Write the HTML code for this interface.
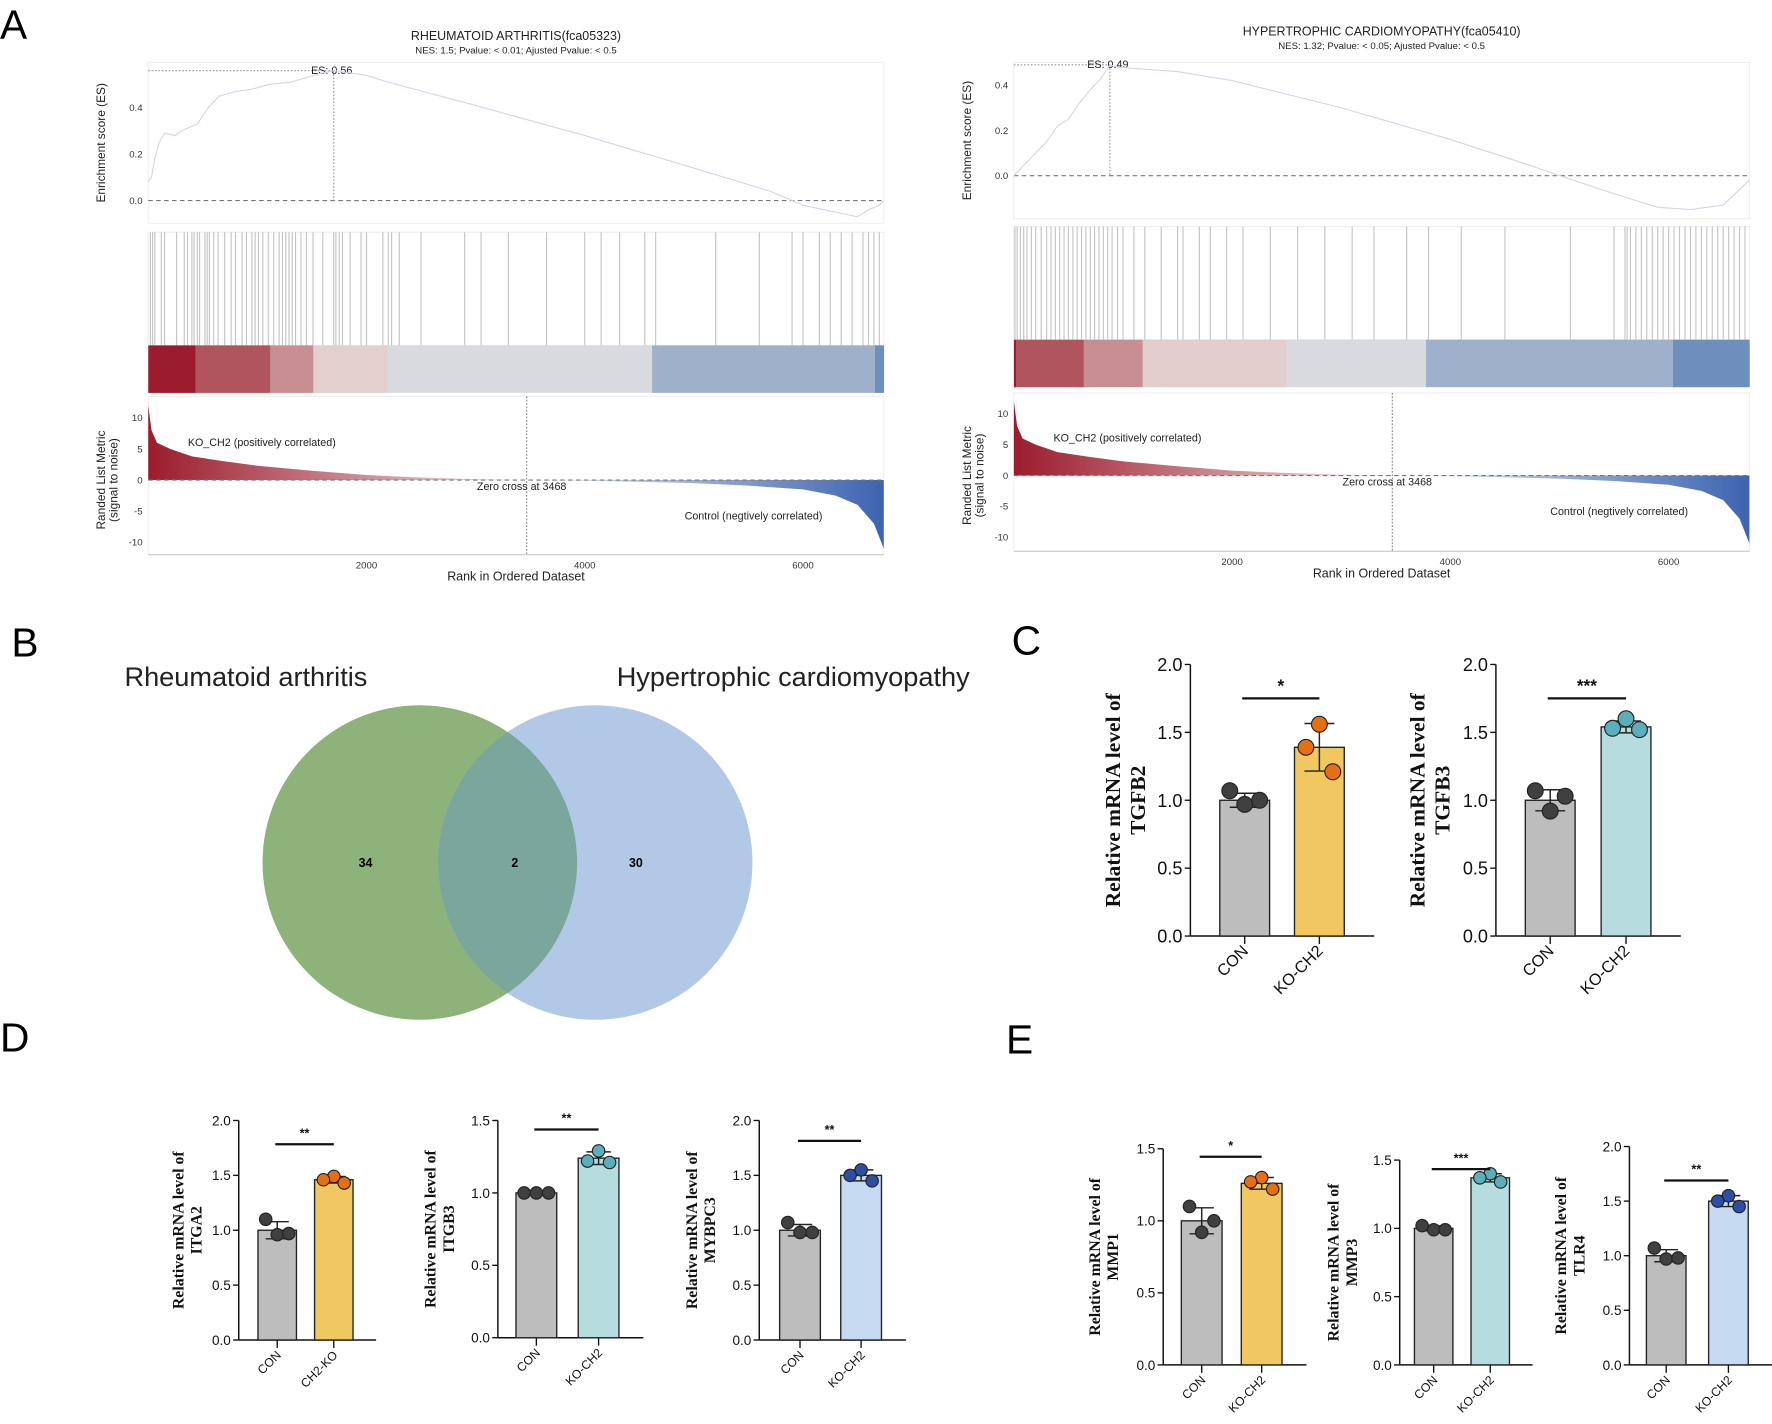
<!DOCTYPE html>
<html><head><meta charset="utf-8"><style>
html,body{margin:0;padding:0;background:#fff}
svg{display:block;font-family:"Liberation Sans",sans-serif}
</style></head><body>
<svg id="fig" width="1772" height="1424" viewBox="0 0 1566 1258" xmlns="http://www.w3.org/2000/svg">
<defs>
<linearGradient id="redG" x1="0" x2="1" y1="0" y2="0"><stop offset="0" stop-color="#9b1c2c"/><stop offset="1" stop-color="#f6e4e4"/></linearGradient>
<linearGradient id="blueG" x1="0" x2="1" y1="0" y2="0"><stop offset="0" stop-color="#eef0f6"/><stop offset="1" stop-color="#3d63b0"/></linearGradient>
<clipPath id="vennClip"><circle cx="371" cy="762" r="139"/></clipPath>
</defs>
<g font-size="36" fill="#000">
<text x="0" y="34">A</text>
<text x="10" y="580">B</text>
<text x="894" y="578">C</text>
<text x="0" y="929">D</text>
<text x="889" y="931">E</text>
</g>
<g id="gseaL"></g>
<g id="gseaR"></g>
<g>
<text x="110" y="606" font-size="24" fill="#222">Rheumatoid arthritis</text>
<text x="545" y="606" font-size="24" fill="#222">Hypertrophic cardiomyopathy</text>
<circle cx="371" cy="762" r="139" fill="#8db37a"/>
<circle cx="526" cy="762" r="139" fill="#b1c9e6"/>
<circle cx="526" cy="762" r="139" fill="#7ba69c" clip-path="url(#vennClip)"/>
<text x="323" y="766" font-size="11" font-weight="bold" text-anchor="middle">34</text>
<text x="455" y="766" font-size="11" font-weight="bold" text-anchor="middle">2</text>
<text x="562" y="766" font-size="11" font-weight="bold" text-anchor="middle">30</text>
</g>
<g id="bars"></g>
</svg>
<script>
// ---------- GSEA data ----------
const esRanksL=[0,30,60,100,150,250,300,450,550,650,800,950,1100,1300,1450,1600,1700,2000,2200,3000,4000,5000,5700,6000,6300,6500,6600,6700,6740];
const esValsL=[0.08,0.1,0.18,0.25,0.29,0.28,0.3,0.33,0.4,0.45,0.47,0.48,0.5,0.51,0.53,0.55,0.56,0.54,0.51,0.41,0.28,0.14,0.04,-0.02,-0.05,-0.07,-0.04,-0.02,0.0];
const hitsL=[20,40,60,120,150,260,330,360,400,420,450,470,520,540,560,600,640,700,760,800,860,900,950,980,1010,1050,1100,1150,1200,1230,1260,1290,1320,1350,1400,1450,1510,1600,1700,1720,1750,1780,1850,1950,2000,2150,2200,2230,2300,2500,2900,3050,3300,3650,4000,4150,4320,4550,4650,5200,5600,5900,6000,6150,6250,6350,6450,6550,6600,6650,6700];
const heatEdgesL=[0,432,1117,1512,2187,4617,6660,6740];
const heatColorsL=["#9b1c2c","#b0555d","#c98e91","#e4cfcf","#d9dae0","#9fb0cb","#6e8ebd"];
const esRanksR=[0,100,200,300,400,500,600,700,800,880,950,1200,1500,2000,3000,4000,4700,5000,5500,5900,6200,6500,6740];
const esValsR=[0.0,0.05,0.1,0.15,0.22,0.25,0.32,0.38,0.43,0.49,0.48,0.47,0.46,0.42,0.3,0.16,0.05,0.0,-0.08,-0.14,-0.15,-0.13,-0.02];
const hitsR=[10,30,60,90,120,160,200,250,300,340,380,420,460,500,540,580,620,660,700,740,780,820,860,900,950,1000,1100,1200,1350,1500,1550,1700,1800,1950,2100,2350,2600,2850,3100,3300,3600,3800,4100,4500,5100,5500,5600,5620,5650,5700,5750,5800,5850,5900,5950,6000,6050,6100,6150,6200,6250,6300,6350,6400,6450,6500,6550,6600,6650,6700];
const heatEdgesR=[0,20,640,1180,2500,3777,6040,6740];
const heatColorsR=["#9b1c2c","#b0555d","#c98e91","#e4cdcd","#d9dae0","#9fb0cb","#6e8ebd"];
const metRanks=[0,30,80,200,400,700,1000,1500,2000,2500,3000,3468,4000,5000,5500,6000,6300,6500,6650,6740];
const metVals=[12,8,6,5,3.8,3,2.3,1.5,0.8,0.4,0.15,0,-0.1,-0.5,-0.9,-1.5,-2.5,-4,-7,-11];
const rankTicks=[2000,4000,6000];
const esTickVals=[0.0,0.2,0.4];
const metTickVals=[10,5,0,-5,-10];
const NS="http://www.w3.org/2000/svg";
function mk(parent,tag,attrs,txt){const e=document.createElementNS(NS,tag);for(const k in attrs)e.setAttribute(k,attrs[k]);if(txt!==undefined)e.textContent=txt;parent.appendChild(e);return e;}

function gsea(g,c){
  const X=r=>c.x0+(r/6740)*(c.x1-c.x0);
  const ESY=v=>c.esZero-v*c.esScale;
  const MY=v=>c.metZero-v*c.metScale;
  const t=mk(g,'text',{x:(c.x0+c.x1)/2,y:c.titleY,'font-size':11,'text-anchor':'middle',fill:'#222'},c.title);
  
  mk(g,'text',{x:(c.x0+c.x1)/2,y:c.titleY+12,'font-size':8.5,'text-anchor':'middle',fill:'#222'},c.sub);
  [[c.esTop,c.esBot],[c.hitTop,c.barTop],[c.metTop,c.metBot]].forEach(b=>mk(g,'rect',{x:c.x0,y:b[0],width:c.x1-c.x0,height:b[1]-b[0],fill:'none',stroke:'#eee'}));
  mk(g,'line',{x1:c.x0,x2:c.x1,y1:ESY(0),y2:ESY(0),stroke:'#777','stroke-dasharray':'4,3'});
  esTickVals.forEach(v=>{mk(g,'text',{x:c.x0-5,y:ESY(v)+3,'font-size':8.5,'text-anchor':'end',fill:'#333'},v.toFixed(1));});
  let pk=0;c.esV.forEach((v,i)=>{if(v>c.esV[pk])pk=i;});
  const px=X(c.esR[pk]),py=ESY(c.esV[pk]);
  mk(g,'line',{x1:c.x0,x2:px,y1:py,y2:py,stroke:'#999','stroke-dasharray':'1.5,1.5'});
  mk(g,'line',{x1:px,x2:px,y1:py,y2:ESY(0),stroke:'#999','stroke-dasharray':'1.5,1.5'});
  mk(g,'text',{x:px-20,y:py+3,'font-size':9.5,fill:'#222'},'ES: '+c.esV[pk].toFixed(2));
  const line=mk(g,'polyline',{points:c.esR.map((r,i)=>X(r)+','+ESY(c.esV[i])).join(' '),fill:'none',stroke:'#cfd7e8','stroke-width':1});
  
  mk(g,'text',{transform:`translate(${c.x0-38},${(c.esTop+c.esBot)/2}) rotate(-90)`,'font-size':10.5,'text-anchor':'middle',fill:'#222'},'Enrichment score (ES)');
  c.hits.forEach(r=>{const l=mk(g,'line',{x1:X(r),x2:X(r),y1:c.hitTop,y2:c.barTop,stroke:'#c4c4c4','stroke-width':1});});
  c.heatC.forEach((col,i)=>{const r=mk(g,'rect',{x:X(c.heatE[i]),y:c.barTop,width:X(c.heatE[i+1])-X(c.heatE[i])+0.3,height:c.barBot-c.barTop,fill:col});});
  const zi=metRanks.indexOf(3468);
  let pos=`M${X(0)},${MY(0)} `+metRanks.slice(0,zi+1).map((r,i)=>`L${X(r)},${MY(metVals[i])}`).join(' ')+' Z';
  let neg=`M${X(3468)},${MY(0)} `+metRanks.slice(zi).map((r,i)=>`L${X(r)},${MY(metVals[zi+i])}`).join(' ')+` L${X(6740)},${MY(0)} Z`;
  const pp=mk(g,'path',{d:pos,fill:'url(#redG)'});
  const np=mk(g,'path',{d:neg,fill:'url(#blueG)'});
  mk(g,'line',{x1:c.x0,x2:c.x1,y1:MY(0),y2:MY(0),stroke:'#777','stroke-dasharray':'4,3'});
  mk(g,'line',{x1:X(3468),x2:X(3468),y1:c.metTop,y2:c.metBot,stroke:'#888','stroke-dasharray':'1.5,1.5'});
  metTickVals.forEach(v=>mk(g,'text',{x:c.x0-5,y:MY(v)+3,'font-size':8.5,'text-anchor':'end',fill:'#333'},String(v)));
  mk(g,'text',{x:c.x0+35,y:MY(0)-30,'font-size':9.5,fill:'#222'},'KO_CH2 (positively correlated)');
  mk(g,'text',{x:X(3468)-44,y:MY(0)+9,'font-size':9.5,fill:'#222'},'Zero cross at 3468');
  mk(g,'text',{x:c.x0+474,y:MY(0)+35,'font-size':9.5,fill:'#222'},'Control (negtively correlated)');
  mk(g,'text',{transform:`translate(${c.x0-38},${MY(0)}) rotate(-90)`,'font-size':10.5,'text-anchor':'middle',fill:'#222'},'Randed List Metric');
  mk(g,'text',{transform:`translate(${c.x0-27},${MY(0)}) rotate(-90)`,'font-size':10.5,'text-anchor':'middle',fill:'#222'},'(signal to noise)');
  mk(g,'line',{x1:c.x0,x2:c.x1,y1:c.metBot,y2:c.metBot,stroke:'#ccc'});
  rankTicks.forEach(r=>mk(g,'text',{x:X(r),y:c.metBot+12,'font-size':8.5,'text-anchor':'middle',fill:'#333'},String(r)));
  mk(g,'text',{x:(c.x0+c.x1)/2,y:c.metBot+23,'font-size':11,'text-anchor':'middle',fill:'#222'},'Rank in Ordered Dataset');
}
gsea(document.getElementById('gseaL'),{x0:131,x1:781,titleY:35,title:'RHEUMATOID ARTHRITIS(fca05323)',sub:'NES: 1.5;  Pvalue: < 0.01;  Ajusted Pvalue: < 0.5',esTop:55,esBot:197,esZero:177,esScale:205,esR:esRanksL,esV:esValsL,hits:hitsL,hitTop:205,barTop:305,barBot:347,heatE:heatEdgesL,heatC:heatColorsL,metTop:350,metBot:490,metZero:424,metScale:5.5});
gsea(document.getElementById('gseaR'),{x0:896,x1:1546,titleY:31,title:'HYPERTROPHIC CARDIOMYOPATHY(fca05410)',sub:'NES: 1.32;  Pvalue: < 0.05;  Ajusted Pvalue: < 0.5',esTop:55,esBot:193,esZero:155,esScale:200,esR:esRanksR,esV:esValsR,hits:hitsR,hitTop:200,barTop:300,barBot:342,heatE:heatEdgesR,heatC:heatColorsR,metTop:347,metBot:487,metZero:420,metScale:5.45});

// ---------- bar chart data ----------
const genes=["TGFB2","TGFB3","ITGA2","ITGB3","MYBPC3","MMP1","MMP3","TLR4"];
const conMeans=[1.0,1.0,1.0,1.0,1.0,1.0,1.0,1.0];
const koMeans=[1.39,1.54,1.46,1.24,1.5,1.26,1.37,1.5];
const conPts=[[1.07,0.97,1.0],[1.07,0.92,1.03],[1.1,0.96,0.97],[1.0,1.0,1.0],[1.07,0.98,0.98],[1.1,0.92,1.0],[1.02,0.99,0.99],[1.07,0.97,0.98]];
const koPts=[[1.56,1.21,1.39],[1.6,1.52,1.53],[1.49,1.43,1.46],[1.29,1.21,1.22],[1.55,1.45,1.5],[1.3,1.22,1.27],[1.4,1.34,1.37],[1.55,1.45,1.5]];
const sigLabels=["*","***","**","**","**","*","***","**"];
const koNames=["KO-CH2","KO-CH2","CH2-KO","KO-CH2","KO-CH2","KO-CH2","KO-CH2","KO-CH2"];
const yMaxes=[2.0,2.0,2.0,1.5,2.0,1.5,1.5,2.0];
const koFill=["#f0c761","#b6dce0","#f0c761","#b6dce0","#c6dbf2","#f0c761","#b6dce0","#c6dbf2"];
const koDot=["#e66f14","#5aafbb","#e66f14","#5aafbb","#2c4fa3","#e66f14","#5aafbb","#2c4fa3"];
const L=[
 {ax:1052,y0:827,yT:587,b1:1078,b2:1144,bw:44,ylx:990,fs:19,tf:16,r:7,sigY:617},
 {ax:1322,y0:827,yT:587,b1:1348,b2:1415,bw:44,ylx:1259,fs:19,tf:16,r:7,sigY:617},
 {ax:211,y0:1184,yT:990,b1:228,b2:278,bw:34,ylx:162,fs:14,tf:12,r:5.5,sigY:1011},
 {ax:440,y0:1182,yT:990,b1:456,b2:511,bw:36,ylx:385,fs:14,tf:12,r:5.5,sigY:998},
 {ax:671,y0:1184,yT:990,b1:689,b2:743,bw:36,ylx:616,fs:14,tf:12,r:5.5,sigY:1008},
 {ax:1028,y0:1206,yT:1015,b1:1044,b2:1097,bw:36,ylx:972,fs:14,tf:12,r:5.5,sigY:1022},
 {ax:1237,y0:1206,yT:1025,b1:1250,b2:1300,bw:34,ylx:1183,fs:14,tf:12,r:5.5,sigY:1033},
 {ax:1440,y0:1206,yT:1013,b1:1455,b2:1510,bw:35,ylx:1384,fs:14,tf:12,r:5.5,sigY:1043}
];
const bars=document.getElementById('bars');
genes.forEach((gene,i)=>{
  const c=L[i];const g=mk(bars,'g',{});
  
  
  const Y=v=>c.y0-(v/yMaxes[i])*(c.y0-c.yT);
  const ticks=[];for(let v=0;v<=yMaxes[i]+1e-9;v+=0.5)ticks.push(v);
  mk(g,'line',{x1:c.ax,x2:c.ax,y1:c.yT,y2:c.y0,stroke:'#111','stroke-width':1.3});
  mk(g,'line',{x1:c.ax,x2:c.b2+c.bw+c.bw*0.6,y1:c.y0,y2:c.y0,stroke:'#111','stroke-width':1.3});
  ticks.forEach(v=>{mk(g,'line',{x1:c.ax-5,x2:c.ax,y1:Y(v),y2:Y(v),stroke:'#111','stroke-width':1.2});
    mk(g,'text',{x:c.ax-7,y:Y(v)+c.tf*0.36,'font-size':c.tf,'text-anchor':'end',fill:'#111'},v.toFixed(1));});
  const groups=[[c.b1,conMeans[i],conPts[i],'#bdbdbd','#404040','CON'],[c.b2,koMeans[i],koPts[i],koFill[i],koDot[i],koNames[i]]];
  groups.forEach((gr,j)=>{
    const [bx,m,pts,fill,dot,name]=gr;const cx=bx+c.bw/2;
    const rect=mk(g,'rect',{x:bx,y:Y(m),width:c.bw,height:c.y0-Y(m),fill:fill,stroke:'#222','stroke-width':1.2});
    
    
    const mean=pts.reduce((a,b)=>a+b,0)/pts.length;
    const sd=Math.sqrt(pts.reduce((a,b)=>a+(b-mean)*(b-mean),0)/(pts.length-1));
    mk(g,'line',{x1:cx,x2:cx,y1:Y(m+sd),y2:Y(m-sd),stroke:'#222','stroke-width':1.3});
    [m+sd,m-sd].forEach(v=>mk(g,'line',{x1:cx-c.bw*0.3,x2:cx+c.bw*0.3,y1:Y(v),y2:Y(v),stroke:'#222','stroke-width':1.3}));
    pts.forEach((v,k)=>{const offs=[-0.3,0,0.3];const p=mk(g,'circle',{cx:cx+offs[(k+j)%3]*c.bw*(j?0.9:1),cy:Y(v),r:c.r,fill:dot,stroke:'#222','stroke-width':1});
      });
    mk(g,'line',{x1:cx,x2:cx,y1:c.y0,y2:c.y0+7,stroke:'#111','stroke-width':1.2});
    mk(g,'text',{transform:`translate(${cx+4},${c.y0+14}) rotate(-45)`,'font-size':c.tf*0.9,'text-anchor':'end',fill:'#111'},name);
  });
  const s1=c.b1+c.bw*0.45,s2=c.b2+c.bw*0.5;
  mk(g,'line',{x1:s1,x2:s2,y1:c.sigY,y2:c.sigY,stroke:'#111','stroke-width':2});
  mk(g,'text',{x:(s1+s2)/2,y:c.sigY-6,'font-size':c.fs*0.8,'font-weight':'bold','text-anchor':'middle',fill:'#111'},sigLabels[i]);
  const mid=(c.y0+c.yT)/2;
  const t1=mk(g,'text',{transform:`translate(${c.ylx},${mid}) rotate(-90)`,'font-family':'"Liberation Serif",serif','font-weight':'bold','font-size':c.fs,'text-anchor':'middle',fill:'#111'},'Relative mRNA level of');
  
  mk(g,'text',{transform:`translate(${c.ylx+c.fs*1.15},${mid}) rotate(-90)`,'font-family':'"Liberation Serif",serif','font-weight':'bold','font-size':c.fs,'text-anchor':'middle',fill:'#111'},gene);
});
</script>
</body></html>
